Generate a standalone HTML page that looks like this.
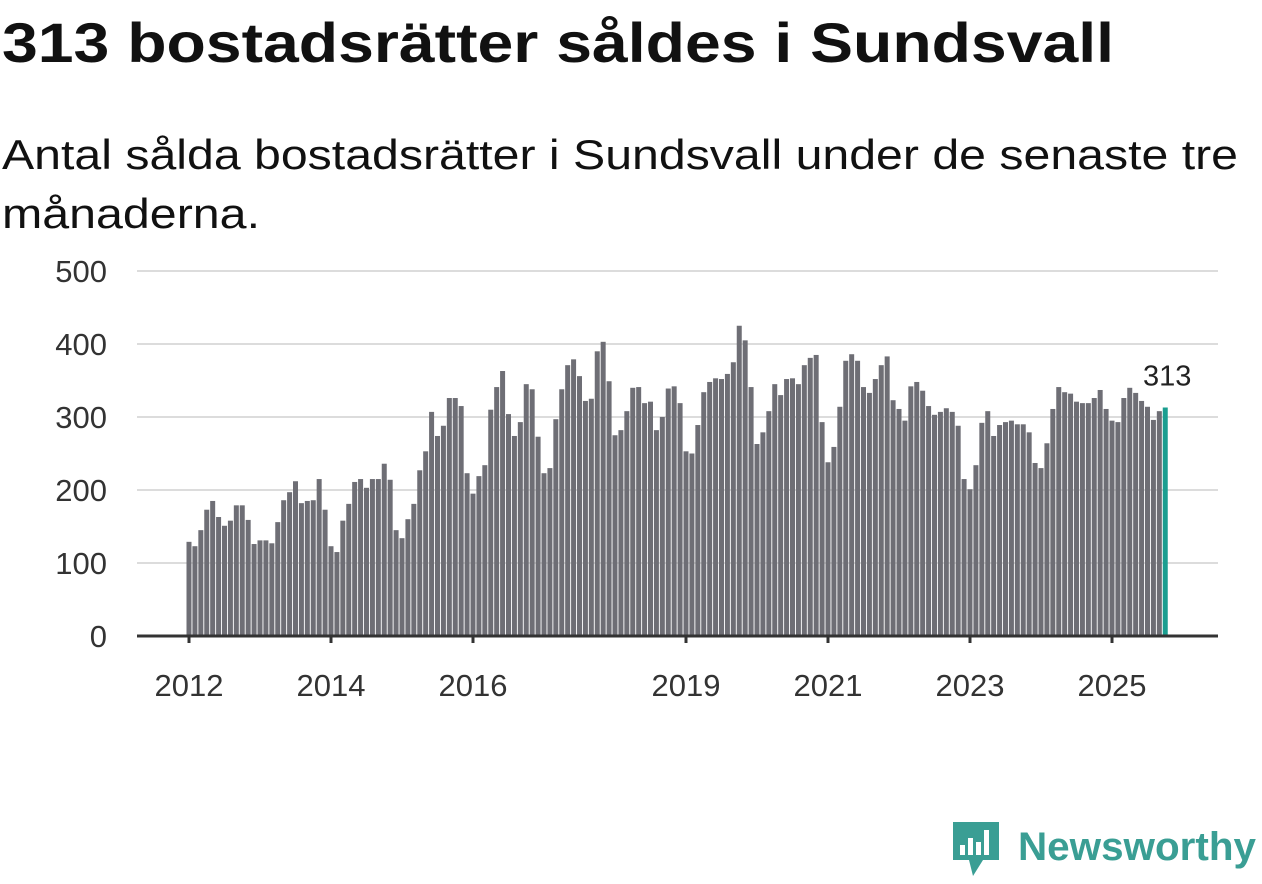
<!DOCTYPE html>
<html><head><meta charset="utf-8"><style>
body{margin:0;background:#fff;width:1262px;height:879px;overflow:hidden;font-family:"Liberation Sans",sans-serif}
</style></head><body>
<svg id="chart" width="1262" height="879" xmlns="http://www.w3.org/2000/svg" font-family="Liberation Sans, sans-serif">
<text x="2" y="62" font-size="56" font-weight="bold" fill="#111" textLength="1112" lengthAdjust="spacingAndGlyphs">313 bostadsrätter såldes i Sundsvall</text>
<text x="2" y="169" font-size="42" fill="#111" textLength="1236" lengthAdjust="spacingAndGlyphs">Antal sålda bostadsrätter i Sundsvall under de senaste tre</text>
<text x="2" y="228" font-size="42" fill="#111" textLength="258" lengthAdjust="spacingAndGlyphs">månaderna.</text>
<g id="grid"></g><g id="bars"></g><g id="axes"></g>
<g>
<path d="M953 822 h46 v38 h-16 l-10 16 l-4 -16 h-16 z" fill="#3a9e94"/>
<rect x="960" y="845" width="5" height="10" fill="#fff"/><rect x="968" y="838" width="5" height="17" fill="#fff"/><rect x="976" y="842" width="5" height="13" fill="#fff"/><rect x="984" y="830" width="5" height="25" fill="#fff"/>
<text x="1018" y="860" font-size="40" font-weight="bold" fill="#3a9e94" textLength="238" lengthAdjust="spacingAndGlyphs">Newsworthy</text>
</g>
</svg>
<script>
const values=[129,123,145,173,185,163,151,158,179,179,159,126,131,131,127,156,186,197,212,182,185,186,215,173,123,115,158,181,211,215,203,215,215,236,214,145,134,160,181,227,
253,307,274,288,326,326,315,223,195,219,234,310,341,363,304,274,293,345,338,273,223,230,297,338,371,379,356,322,325,390,403,349,275,282,308,340,341,319,321,282,
300,339,342,319,253,250,289,334,348,353,352,359,375,425,405,341,263,279,308,345,330,352,353,345,371,381,385,293,238,259,314,377,386,377,341,333,352,371,383,323,311,295,
342,348,336,315,303,307,312,307,288,215,201,234,292,308,274,289,293,295,290,290,279,237,230,264,311,341,334,332,321,319,319,326,337,311,295,293,326,340,333,322,314,296,308,313];
const yTicks=[0,100,200,300,400,500];
const xLabels=["2012","2014","2016","2019","2021","2023","2025"];
const xLabelIdx=[0,24,48,84,108,132,156];
const NS="http://www.w3.org/2000/svg";
const x0=189, step=(1112-189)/156, y0=636, yk=(636-271)/500;
const X=i=>x0+i*step, Y=v=>y0-v*yk;
function mk(t,a,p){const e=document.createElementNS(NS,t);for(const k in a)e.setAttribute(k,a[k]);p.appendChild(e);return e;}
const grid=document.getElementById('grid'),bars=document.getElementById('bars'),axes=document.getElementById('axes');
yTicks.forEach(v=>{
 if(v>0){const l=mk('line',{x1:137,x2:1218,y1:Y(v),y2:Y(v),stroke:'#dcdcdc','stroke-width':2},grid);
 
 }
 const t=mk('text',{x:107,y:Y(v)+11,'font-size':31,fill:'#333','text-anchor':'end'},axes);
 t.textContent=v;
 
 
});
values.forEach((v,i)=>{
 const last=i===values.length-1;
 const r=mk('rect',{x:X(i)-2.5,y:Y(v),width:5,height:v*yk,fill:last?'#1a9e90':'#6e6e75'},bars);
 
 
});
const li=values.length-1;
const lab=mk('text',{x:X(li)+2,y:Y(values[li])-22,'font-size':29,fill:'#222','text-anchor':'middle'},axes);
lab.textContent=values[li];


const ax=mk('line',{x1:137,x2:1218,y1:y0,y2:y0,stroke:'#333','stroke-width':3},axes);


xLabels.forEach((s,k)=>{
 const x=X(xLabelIdx[k]);
 const tk=mk('line',{x1:x,x2:x,y1:y0,y2:y0+7,stroke:'#333','stroke-width':3},axes);
 
 
 const t=mk('text',{x:x,y:696,'font-size':31,fill:'#333','text-anchor':'middle'},axes);
 t.textContent=s;
 
 
});
</script>
</body></html>
